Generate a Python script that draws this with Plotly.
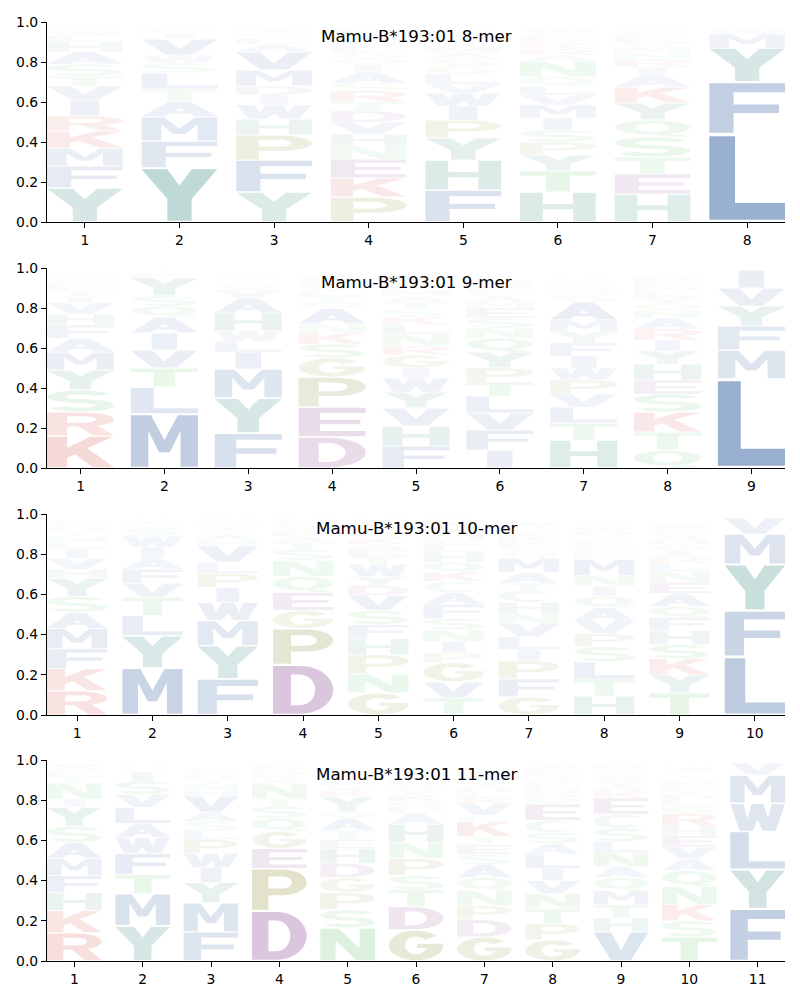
import numpy as np
import plotly.graph_objects as go

ALLELE = "Mamu-B*193:01"
LENGTHS = [8, 9, 10, 11]

# Letters per position, listed bottom -> top, with their frequencies
LET_8 = ["YFMKRIVTSAHLWQG", "YFMATLSWVIGK", "YFPHWIDMVALSTG", "PKENHVDTRSAIQGLMFYWC",
         "FHYPIWVLGSAMTQNKR", "HTYPSIMVLQNARKEFGWD", "HETSQYKAIRNMVLFGP", "LFYMWI"]
FRQ_8 = [
    [.17, .11, .09, .085, .075, .08, .07, .05, .06, .06, .05, .03, .02, .02, .015],
    [.27, .135, .12, .08, .06, .08, .05, .04, .08, .03, .02, .015],
    [.15, .16, .125, .08, .07, .05, .045, .08, .09, .04, .03, .025, .02, .015],
    [.125, .095, .095, .065, .06, .06, .055, .045, .055, .04, .055, .035, .03, .03, .03, .025, .02, .02, .015, .02],
    [.16, .15, .11, .09, .07, .065, .045, .05, .04, .035, .03, .03, .025, .02, .02, .015, .015],
    [.15, .105, .08, .065, .06, .06, .065, .05, .045, .045, .08, .03, .03, .025, .02, .02, .015, .015, .015],
    [.14, .1, .085, .1, .085, .085, .08, .06, .04, .04, .03, .03, .025, .02, .02, .015, .015],
    [.44, .26, .17, .07, .02, .01],
]

LET_9 = ["KRSYMAFHVITLNQEG", "MLTVIAQSYFG", "FYMILWHAVSTGQ", "DEPGSKNAQTLVRHFI",
         "FHVYWIGRNLKSTAMPQED", "IFVLTPYQNSEMAGKHR", "HTLVPWIFYMASNQGEK",
         "QTKSEHYIRANGVLMFPD", "LMFYVI"]
FRQ_9 = [
    [.16, .12, .11, .1, .09, .07, .065, .055, .055, .03, .03, .025, .02, .02, .015, .015],
    [.27, .135, .095, .09, .085, .08, .055, .05, .09, .02, .015],
    [.175, .175, .145, .085, .055, .05, .09, .075, .04, .03, .025, .02, .015],
    [.155, .15, .15, .095, .07, .055, .045, .08, .03, .03, .025, .02, .02, .015, .015, .015],
    [.11, .1, .09, .08, .07, .05, .065, .045, .06, .045, .04, .04, .035, .03, .03, .025, .02, .02, .015],
    [.09, .1, .085, .085, .07, .07, .08, .07, .05, .05, .05, .03, .03, .025, .02, .02, .015],
    [.14, .085, .08, .065, .07, .06, .06, .065, .055, .06, .09, .03, .02, .02, .015, .015, .015],
    [.09, .09, .1, .09, .07, .08, .065, .055, .055, .055, .04, .035, .03, .03, .025, .02, .015, .015],
    [.445, .145, .12, .1, .09, .09],
]

LET_10 = ["RKFMASYHVILNTQEG", "MYLTVFAIWSGQ", "FYMWIPLVHASTGN", "DPGEQNSTAKVLRH",
          "GNPHFSVDYWTEAKQLIRM", "TVGPINSFACKQHLEMYRD", "GFPILVNHCTAMQSEKYRDW",
          "HTLSPVAQINMEFGKRYDWC", "TYKSHFQAENLRIGMVPDW", "LFYMV"]
FRQ_10 = [
    [.12, .11, .1, .1, .08, .08, .09, .045, .055, .045, .035, .03, .025, .02, .02, .015],
    [.235, .16, .1, .09, .07, .07, .055, .055, .055, .04, .03, .015],
    [.18, .165, .125, .09, .075, .07, .055, .08, .03, .03, .025, .02, .02, .015],
    [.25, .18, .09, .09, .08, .08, .055, .035, .03, .025, .02, .02, .015, .015],
    [.11, .095, .095, .08, .07, .07, .075, .05, .045, .06, .035, .035, .03, .03, .025, .02, .02, .015, .015],
    [.085, .08, .095, .05, .055, .06, .055, .07, .06, .055, .045, .05, .05, .035, .03, .03, .025, .025, .02],
    [.09, .09, .09, .055, .065, .065, .05, .055, .06, .035, .055, .07, .03, .03, .025, .025, .02, .015, .015, .02],
    [.095, .085, .085, .075, .065, .065, .065, .055, .05, .055, .08, .025, .025, .02, .02, .015, .015, .02, .02, .015],
    [.11, .09, .08, .07, .07, .065, .055, .065, .055, .055, .04, .035, .03, .03, .025, .025, .02, .015, .015],
    [.29, .23, .23, .15, .08],
]

LET_11 = ["RKHFMASYINTLQV", "YMTFWALVSIGQ", "FMYIWPLSAVHNTQEG", "DPEGQSTNAKHVL",
          "NSPGDHETAQYKVFLRMI", "GDTSPNHAEQKYVLFRI", "GDPNQASETKCVRLHYFIMW",
          "GPTNVILASCEQDHKRYMFW", "VHTMQANLSCEKRYWGFPD", "TSKNQAVEHRGLDYFMPICW", "FYLWMV"]
FRQ_11 = [
    [.14, .11, .09, .085, .085, .08, .08, .095, .04, .08, .03, .025, .02, .02],
    [.175, .16, .095, .105, .08, .07, .08, .065, .065, .045, .015, .015],
    [.145, .145, .1, .075, .07, .07, .045, .045, .045, .08, .03, .03, .025, .02, .02, .015],
    [.25, .21, .1, .085, .065, .06, .04, .07, .025, .02, .02, .015, .015],
    [.165, .09, .085, .075, .07, .075, .045, .045, .06, .035, .07, .03, .025, .02, .02, .015, .015, .015],
    [.155, .115, .085, .07, .085, .08, .09, .055, .03, .03, .03, .025, .025, .02, .02, .015, .015],
    [.12, .085, .07, .075, .065, .065, .05, .05, .04, .075, .03, .06, .03, .025, .025, .02, .02, .015, .02, .015],
    [.105, .08, .075, .075, .065, .06, .07, .055, .055, .06, .08, .03, .025, .025, .02, .02, .02, .015, .02, .015],
    [.145, .07, .065, .07, .065, .055, .07, .055, .065, .07, .08, .03, .025, .025, .02, .02, .015, .015, .015],
    [.12, .08, .08, .09, .08, .058, .06, .055, .05, .06, .04, .03, .025, .025, .02, .02, .015, .015, .02, .02],
    [.26, .195, .19, .14, .14, .06],
]

PANELS = [(LET_8, FRQ_8), (LET_9, FRQ_9), (LET_10, FRQ_10), (LET_11, FRQ_11)]

# ---------------- styling ----------------
GROUP_COLORS = {
    "AVLIMFW": (46, 92, 158),
    "YH": (40, 128, 118),
    "KR": (200, 45, 35),
    "DE": (120, 50, 130),
    "PG": (128, 128, 40),
    "NQST": (60, 180, 70),
    "C": (90, 160, 120),
}
COLOR = {aa: c for grp, c in GROUP_COLORS.items() for aa in grp}
LETTER_WIDTH = 0.8
VPAD = 0.025


def arc(cx, cy, rx, ry, a0, a1, n=30):
    t = np.radians(np.linspace(a0, a1, n))
    return list(zip(cx + rx * np.cos(t), cy + ry * np.sin(t)))


def build_glyphs():
    g = {}
    g["A"] = [[(0, 0), (0.36, 1), (0.64, 1), (1, 0), (0.7, 0), (0.628, 0.2), (0.372, 0.2), (0.3, 0)],
              [(0.43, 0.36), (0.57, 0.36), (0.5, 0.555)]]
    g["C"] = [arc(0.5, 0.5, 0.5, 0.5, 45, 315) + arc(0.5, 0.5, 0.22, 0.32, 315, 45)]
    g["D"] = [[(0, 0), (0.45, 0)] + arc(0.45, 0.5, 0.55, 0.5, -90, 90) + [(0, 1)],
              [(0.3, 0.18), (0.45, 0.18)] + arc(0.45, 0.5, 0.25, 0.32, -90, 90) + [(0.3, 0.82)]]
    g["E"] = [[(0, 0), (1, 0), (1, 0.18), (0.32, 0.18), (0.32, 0.42), (0.92, 0.42), (0.92, 0.58),
               (0.32, 0.58), (0.32, 0.82), (1, 0.82), (1, 1), (0, 1)]]
    g["F"] = [[(0, 0), (0.32, 0), (0.32, 0.4), (0.92, 0.4), (0.92, 0.57), (0.32, 0.57), (0.32, 0.82),
               (1, 0.82), (1, 1), (0, 1)]]
    th = np.degrees(np.arcsin((0.41 - 0.5) / 0.3)) + 360
    g["G"] = [arc(0.5, 0.5, 0.5, 0.5, 40, 360) + [(1, 0.56), (0.52, 0.56), (0.52, 0.41)]
              + arc(0.5, 0.5, 0.2, 0.3, th, 40)]
    g["H"] = [[(0, 0), (0.3, 0), (0.3, 0.42), (0.7, 0.42), (0.7, 0), (1, 0), (1, 1), (0.7, 1),
               (0.7, 0.6), (0.3, 0.6), (0.3, 1), (0, 1)]]
    g["I"] = [[(0.31, 0), (0.69, 0), (0.69, 1), (0.31, 1)]]
    g["K"] = [[(0, 0), (0.3, 0), (0.3, 0.3), (0.42, 0.43), (0.68, 0), (1, 0), (0.6, 0.62), (0.98, 1),
               (0.64, 1), (0.3, 0.64), (0.3, 1), (0, 1)]]
    g["L"] = [[(0, 0), (1, 0), (1, 0.2), (0.34, 0.2), (0.34, 1), (0, 1)]]
    g["M"] = [[(0, 0), (0.26, 0), (0.26, 0.7), (0.42, 0.28), (0.58, 0.28), (0.74, 0.7), (0.74, 0),
               (1, 0), (1, 1), (0.7, 1), (0.5, 0.52), (0.3, 1), (0, 1)]]
    g["N"] = [[(0, 0), (0.28, 0), (0.28, 0.62), (0.66, 0), (1, 0), (1, 1), (0.72, 1), (0.72, 0.38),
               (0.34, 1), (0, 1)]]
    g["P"] = [[(0, 0), (0.3, 0), (0.3, 0.36), (0.55, 0.36)] + arc(0.55, 0.68, 0.45, 0.32, -90, 90) + [(0, 1)],
              [(0.3, 0.53), (0.55, 0.53)] + arc(0.55, 0.68, 0.18, 0.15, -90, 90) + [(0.3, 0.83)]]
    g["Q"] = [arc(0.5, 0.56, 0.5, 0.44, 0, 360, 48), arc(0.5, 0.56, 0.22, 0.26, 0, 360, 48),
              [(0.55, 0.11), (0.62, 0.0), (1.0, 0.0), (0.85, 0.13)]]
    g["R"] = [[(0, 0), (0.3, 0), (0.3, 0.4), (0.45, 0.4), (0.7, 0), (1, 0), (0.74, 0.45)]
              + arc(0.55, 0.7, 0.45, 0.3, -55, 90) + [(0, 1)],
              [(0.3, 0.56), (0.55, 0.56)] + arc(0.55, 0.7, 0.18, 0.14, -90, 90) + [(0.3, 0.84)]]
    side_a = arc(0.5, 0.705, 0.22, 0.115, 25, 270) + arc(0.5, 0.295, 0.5, 0.295, 90, -155)
    side_b = arc(0.5, 0.705, 0.5, 0.295, 25, 270) + arc(0.5, 0.295, 0.22, 0.115, 90, -155)
    g["S"] = [side_a + side_b[::-1]]
    g["T"] = [[(0.34, 0), (0.66, 0), (0.66, 0.8), (1, 0.8), (1, 1), (0, 1), (0, 0.8), (0.34, 0.8)]]
    g["V"] = [[(0.32, 0), (0.68, 0), (1, 1), (0.68, 1), (0.5, 0.36), (0.32, 1), (0, 1)]]
    g["W"] = [[(0.17, 0), (0.41, 0), (0.5, 0.42), (0.59, 0), (0.83, 0), (1, 1), (0.76, 1), (0.69, 0.45),
               (0.61, 1), (0.39, 1), (0.31, 0.45), (0.24, 1), (0, 1)]]
    g["Y"] = [[(0.34, 0), (0.66, 0), (0.66, 0.42), (1, 1), (0.66, 1), (0.5, 0.68), (0.34, 1), (0, 1),
               (0.34, 0.42)]]
    return g


GLYPHS = build_glyphs()


def glyph_path(letter, x0, x1, y0, y1):
    parts = []
    for contour in GLYPHS[letter]:
        pts = [f"{x0 + (x1 - x0) * u:.4f},{y0 + (y1 - y0) * v:.5f}" for u, v in contour]
        parts.append("M " + " L ".join(pts) + " Z")
    return " ".join(parts)


# ---------------- layout geometry (page pixel coordinates) ----------------
PAGE_OFFSET = 8                       # default body margin of the html page
PLOT_LEFT, PLOT_RIGHT = 47, 785
PANEL_PX = [(22, 222), (268, 468), (514, 715), (760, 961)]
FIG_W, FIG_H = 800 - PAGE_OFFSET, 1000 - PAGE_OFFSET
M_L = PLOT_LEFT - PAGE_OFFSET
M_R = 800 - PLOT_RIGHT
M_T = PANEL_PX[0][0] - PAGE_OFFSET
M_B = 1000 - PANEL_PX[-1][1]
plot_h = FIG_H - M_T - M_B
plot_bottom_page = PANEL_PX[-1][1]

shapes = []
annotations = []
layout_axes = {}
FONT = "DejaVu Sans, Verdana, sans-serif"
AXFONT = dict(size=13.9, color="black", family=FONT)

for k, ((letters, freqs), n) in enumerate(zip(PANELS, LENGTHS), start=1):
    xr = f"x{k}" if k > 1 else "x"
    yr = f"y{k}" if k > 1 else "y"
    for pos, (lets, frs) in enumerate(zip(letters, freqs), start=1):
        base = 0.0
        for aa, f in zip(lets, frs):
            r, g, b = COLOR[aa]
            alpha = min(1.0, 1.1 * f)
            pad = VPAD * f
            shapes.append(dict(
                type="path", xref=xr, yref=yr, layer="below",
                path=glyph_path(aa, pos - LETTER_WIDTH / 2, pos + LETTER_WIDTH / 2, base + pad, base + f - pad),
                fillcolor=f"rgba({r},{g},{b},{alpha:.3f})", line=dict(width=0),
            ))
            base += f
    top_px, bot_px = PANEL_PX[k - 1]
    dom = [(plot_bottom_page - bot_px) / plot_h, (plot_bottom_page - top_px) / plot_h]
    suffix = k if k > 1 else ""
    layout_axes[f"xaxis{suffix}"] = dict(
        domain=[0, 1], anchor=yr, range=[1 - LETTER_WIDTH / 2, n + LETTER_WIDTH / 2], automargin=False,
        tickmode="array", tickvals=list(range(1, n + 1)), ticktext=[str(i) for i in range(1, n + 1)],
        showline=True, linecolor="black", linewidth=1.1, ticks="outside", ticklen=5, tickwidth=1.1,
        tickcolor="black", showgrid=False, zeroline=False, tickfont=AXFONT,
    )
    layout_axes[f"yaxis{suffix}"] = dict(
        domain=dom, anchor=xr, range=[0, 1], automargin=False,
        tickmode="array", tickvals=[0, 0.2, 0.4, 0.6, 0.8, 1.0],
        ticktext=["0.0", "0.2", "0.4", "0.6", "0.8", "1.0"],
        showline=True, linecolor="black", linewidth=1.1, ticks="outside", ticklen=5, tickwidth=1.1,
        tickcolor="black", showgrid=False, zeroline=False, tickfont=AXFONT,
    )
    annotations.append(dict(
        text=f"{ALLELE} {n}-mer", xref=f"{xr} domain", yref=f"{yr} domain", x=0.5, y=0.928,
        xanchor="center", yanchor="middle", showarrow=False,
        font=dict(size=16.7, color="black", family=FONT),
    ))

fig = go.Figure()
fig.update_layout(
    width=FIG_W, height=FIG_H,
    margin=dict(l=M_L, r=M_R, t=M_T, b=M_B, autoexpand=False),
    paper_bgcolor="white", plot_bgcolor="white",
    showlegend=False, shapes=shapes, annotations=annotations,
    font=dict(family=FONT, color="black"),
    **layout_axes,
)

fig.write_html("out.html")
